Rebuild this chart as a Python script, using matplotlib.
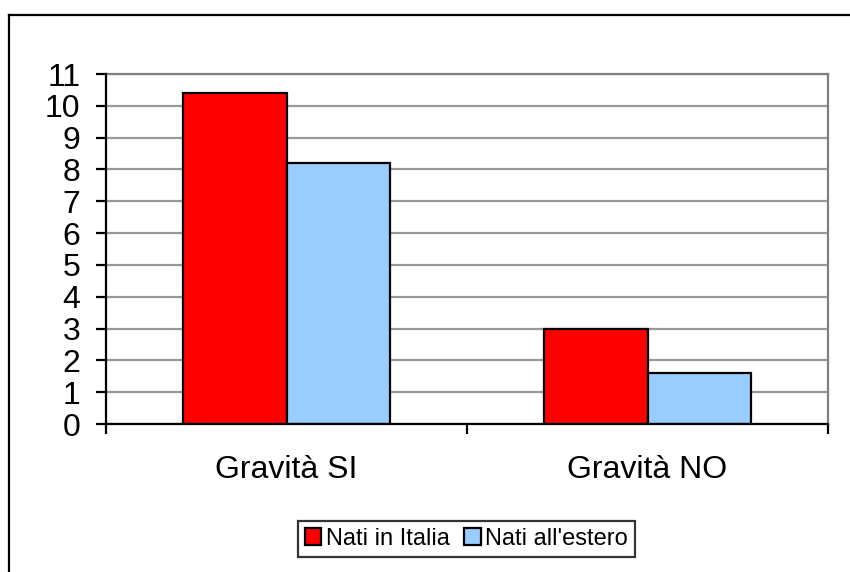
import matplotlib
matplotlib.use("Agg")
import matplotlib.pyplot as plt
from matplotlib.lines import Line2D
from matplotlib.patches import Patch
import numpy as np

plt.rcParams['font.family'] = ['Liberation Sans', 'DejaVu Sans']

categories = ["Gravità SI", "Gravità NO"]
series_names = ["Nati in Italia", "Nati all'estero"]
nati_italia = [10.4, 3.0]
nati_estero = [8.2, 1.6]
y_ticks = list(range(0, 12))

red = "#FF0000"
blue = "#99CCFF"

W, H = 850, 572
fig = plt.figure(figsize=(W / 100, H / 100), dpi=100)
ax = fig.add_axes([106 / W, 1 - 424 / H, (828 - 106) / W, (424 - 74) / H])

x = np.arange(len(categories))
bw = 0.288
ax.bar(x - bw / 2, nati_italia, bw, color=red, edgecolor="black", linewidth=1.6, zorder=3)
ax.bar(x + bw / 2, nati_estero, bw, color=blue, edgecolor="black", linewidth=1.6, zorder=3)

ax.set_xlim(-0.5, len(categories) - 0.5)
ax.set_ylim(0, 11)
ax.set_yticks(y_ticks)
ax.set_yticklabels([str(t) for t in y_ticks], fontsize=23)
ax.yaxis.grid(True, color="#999999", linewidth=1.6, zorder=0)

ax.set_xticks(x)
ax.set_xticklabels(categories, fontsize=23)
ax.set_xticks(np.arange(-0.5, len(categories)), minor=True)
ax.tick_params(axis="x", which="major", length=0, pad=22)
ax.tick_params(axis="x", which="minor", length=7.5, width=1.6, direction="out")
ax.tick_params(axis="y", length=7.5, width=1.6, direction="out", pad=11)

for side in ("left", "bottom"):
    ax.spines[side].set_color("black")
    ax.spines[side].set_linewidth(1.6)
for side in ("top", "right"):
    ax.spines[side].set_color("#808080")
    ax.spines[side].set_linewidth(1.6)
ax.spines["left"].set_zorder(4)
ax.spines["bottom"].set_zorder(4)

handles = [Patch(facecolor=red, edgecolor="black", linewidth=1.6),
           Patch(facecolor=blue, edgecolor="black", linewidth=1.6)]
leg = fig.legend(handles, series_names, loc="center", bbox_to_anchor=(466.5 / W, 1 - 539 / H),
                 ncol=2, fontsize=17, frameon=True, fancybox=False, edgecolor="black",
                 handlelength=0.7, handleheight=0.7, handletextpad=0.2, columnspacing=0.6,
                 borderpad=0.3, borderaxespad=0)
leg.get_frame().set_linewidth(1.6)

# outer chart frame
fig.add_artist(Line2D([9 / W, 1.0], [1 - 15 / H, 1 - 15 / H], transform=fig.transFigure,
                      color="black", linewidth=1.6))
fig.add_artist(Line2D([9 / W, 9 / W], [0.0, 1 - 15 / H], transform=fig.transFigure,
                      color="black", linewidth=1.6))

fig.savefig("out.png", dpi=100)
